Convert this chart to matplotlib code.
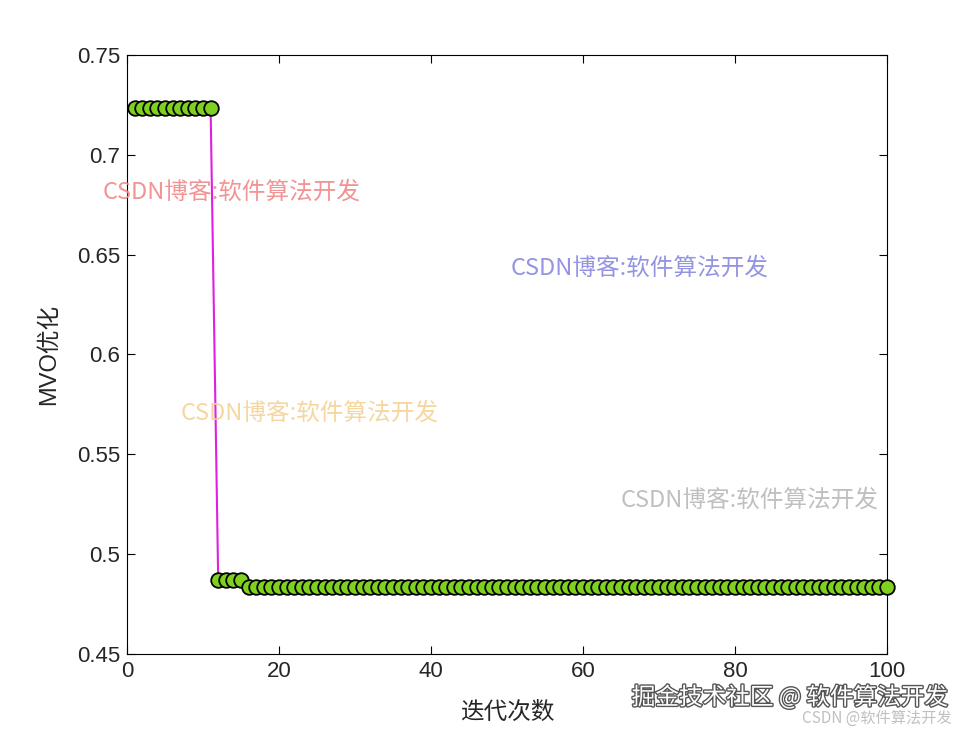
import numpy as np
import matplotlib
matplotlib.use("Agg")
import matplotlib.pyplot as plt
import matplotlib.patheffects as pe

plt.rcParams['font.family'] = ['Liberation Sans', 'Noto Sans CJK SC', 'DejaVu Sans']

iterations = list(range(1, 101))
values = [0.7235] * 11 + [0.4870] * 4 + [0.4836] * 85

xticks = [0, 20, 40, 60, 80, 100]
yticks = [0.45, 0.5, 0.55, 0.6, 0.65, 0.7, 0.75]
ytick_labels = ['0.45', '0.5', '0.55', '0.6', '0.65', '0.7', '0.75']

fig = plt.figure(figsize=(9.8, 7.35), dpi=100)
ax = fig.add_axes([0.1296, 0.1102, 0.7755, 0.815])

ax.plot(iterations, values, color='#e020e0', linewidth=1.5,
        marker='o', markersize=10.5, markerfacecolor='#80d020',
        markeredgecolor='black', markeredgewidth=1.3, zorder=3, clip_on=False)

ax.set_xlim(0, 100)
ax.set_ylim(0.45, 0.75)
ax.set_xticks(xticks)
ax.set_yticks(yticks)
ax.set_yticklabels(ytick_labels)
ax.tick_params(direction='in', top=True, right=True, labelsize=16, length=6, width=0.8,
               pad=5, labelcolor='#262626')
for s in ax.spines.values():
    s.set_linewidth(0.8)

ax.set_xlabel('迭代次数', fontsize=17, labelpad=14, color='#262626')
ax.set_ylabel('MVO优化', fontsize=17, labelpad=12, color='#262626')

wm = 'CSDN博客:软件算法开发'
cjk = ['Noto Sans CJK SC', 'DejaVu Sans']
fig.text(232/980, 1 - 192/735, wm, color='#f08888', fontsize=17, ha='center', va='center', family=cjk, alpha=0.9)
fig.text(640/980, 1 - 268/735, wm, color='#8888e0', fontsize=17, ha='center', va='center', family=cjk, alpha=0.9)
fig.text(310/980, 1 - 413/735, wm, color='#f5d295', fontsize=17, ha='center', va='center', family=cjk, alpha=0.9)
fig.text(750/980, 1 - 500/735, wm, color='#b8b8b8', fontsize=17, ha='center', va='center', family=cjk, alpha=0.9)

t = fig.text(790/980, 1 - 697/735, '掘金技术社区 @ 软件算法开发', color='white', fontsize=17,
             ha='center', va='center', family=cjk)
t.set_path_effects([pe.withStroke(linewidth=2, foreground='#555555')])
fig.text(877/980, 1 - 718/735, 'CSDN @软件算法开发', color='#c0c0c0', fontsize=11,
         ha='center', va='center', family=cjk)

fig.savefig('out.png', dpi=100)
